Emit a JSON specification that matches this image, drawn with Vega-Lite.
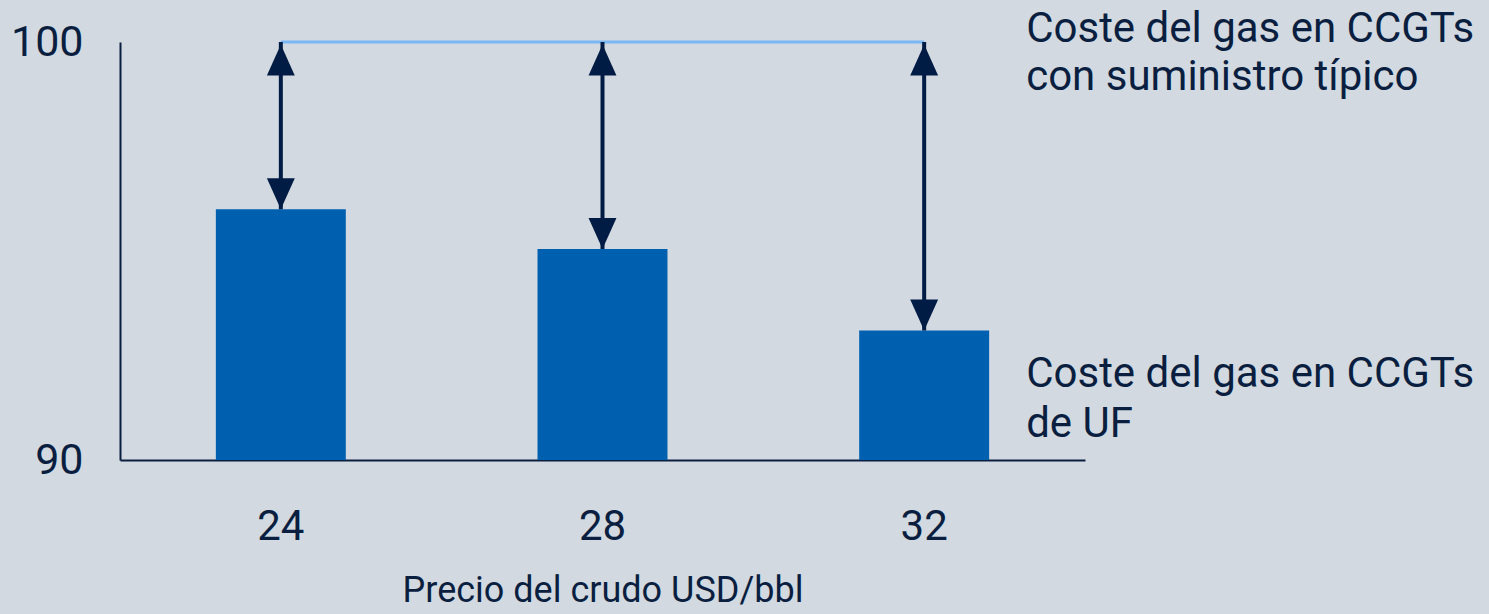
{
  "$schema": "https://vega.github.io/schema/vega-lite/v6.json",
  "width": 965,
  "height": 418,
  "autosize": {"type": "none"},
  "padding": {"left": 120, "top": 42, "right": 404, "bottom": 154},
  "background": "#d2d9e1",
  "config": {"view": {"stroke": null}, "font": "Roboto"},
  "data": {"values": [
    {"precio": "24", "coste": 96.0, "tipico": 100},
    {"precio": "28", "coste": 95.05, "tipico": 100},
    {"precio": "32", "coste": 93.1, "tipico": 100}
  ]},
  "encoding": {
    "x": {"field": "precio", "type": "ordinal",
      "scale": {"paddingInner": 0.596, "paddingOuter": 0.298},
      "axis": {"title": "Precio del crudo USD/bbl", "labelAngle": 0, "domain": true, "domainColor": "#0a1f40", "domainWidth": 2, "ticks": false,
        "labelFontSize": 42, "labelColor": "#0a1f40", "labelPadding": 46,
        "titleFontSize": 36, "titleFontWeight": "normal", "titleColor": "#0a1f40", "titlePadding": 26}}
  },
  "layer": [
    {
      "mark": {"type": "bar", "color": "#0060b0"},
      "encoding": {
        "y": {"field": "coste", "type": "quantitative",
          "scale": {"domain": [90, 100], "nice": false, "zero": false, "clamp": true},
          "axis": {"title": null, "values": [90, 100], "grid": false, "ticks": false, "domain": true, "domainColor": "#0a1f40", "domainWidth": 2,
            "labelFontSize": 43, "labelColor": "#0a1f40", "labelPadding": 37}}
      }
    },
    {
      "mark": {"type": "line", "color": "#7ab8f5", "strokeWidth": 3},
      "encoding": {
        "y": {"field": "tipico", "type": "quantitative"}
      }
    },
    {
      "mark": {"type": "rule", "color": "#001c44", "strokeWidth": 4},
      "encoding": {
        "y": {"field": "tipico", "type": "quantitative"},
        "y2": {"field": "coste"}
      }
    },
    {
      "mark": {"type": "point", "shape": "M-0.9,1L0,-1L0.9,1Z", "size": 961, "filled": true, "opacity": 1, "color": "#001c44", "yOffset": 18},
      "encoding": {
        "y": {"field": "tipico", "type": "quantitative"}
      }
    },
    {
      "mark": {"type": "point", "shape": "M-0.9,-1L0,1L0.9,-1Z", "size": 961, "filled": true, "opacity": 1, "color": "#001c44", "yOffset": -15.5},
      "encoding": {
        "y": {"field": "coste", "type": "quantitative"}
      }
    },
    {
      "transform": [{"filter": "datum.precio == '32'"}],
      "mark": {"type": "text", "align": "left", "baseline": "alphabetic", "dx": 102, "dy": 0, "fontSize": 42, "lineHeight": 48, "color": "#0a1f40"},
      "encoding": {
        "y": {"field": "tipico", "type": "quantitative"},
        "text": {"value": ["Coste del gas en CCGTs", "con suministro típico"]}
      }
    },
    {
      "transform": [{"filter": "datum.precio == '32'"}],
      "mark": {"type": "text", "align": "left", "baseline": "alphabetic", "dx": 102, "dy": 57, "fontSize": 42, "lineHeight": 50, "color": "#0a1f40"},
      "encoding": {
        "y": {"field": "coste", "type": "quantitative"},
        "text": {"value": ["Coste del gas en CCGTs", "de UF"]}
      }
    }
  ]
}
